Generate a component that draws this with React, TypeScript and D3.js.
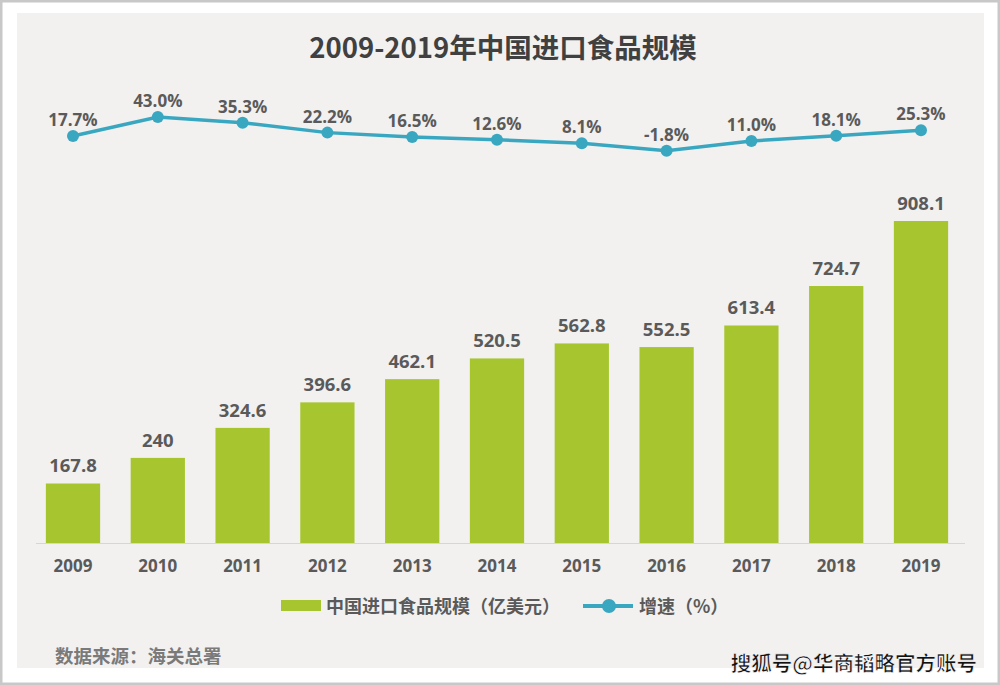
import React from "react";
import * as d3 from "d3";

const years = ["2009","2010","2011","2012","2013","2014","2015","2016","2017","2018","2019"];
const importValues = [167.8, 240, 324.6, 396.6, 462.1, 520.5, 562.8, 552.5, 613.4, 724.7, 908.1];
const valueLabels = ["167.8","240","324.6","396.6","462.1","520.5","562.8","552.5","613.4","724.7","908.1"];
const growth = [17.7, 43.0, 35.3, 22.2, 16.5, 12.6, 8.1, -1.8, 11.0, 18.1, 25.3];
const growthLabels = ["17.7%","43.0%","35.3%","22.2%","16.5%","12.6%","8.1%","-1.8%","11.0%","18.1%","25.3%"];

const FONT = "'Noto Sans CJK SC', 'Noto Sans', sans-serif";
const NUMFONT = "'Open Sans', 'Noto Sans', sans-serif";
const GREEN = "#a7c52f";
const BLUE = "#3aa7c1";
const TXT = "#5a5a5a";

export default function App() {
  const x = d3.scaleBand<string>().domain(years).range([30.6, 963.4]).paddingInner(0.36).paddingOuter(0.18);
  const y = d3.scaleLinear().domain([0, 1000]).range([543, 543 - 354.6]);
  const yg = d3.scaleLinear().domain([0, 43]).range([149.3, 117]);
  const cx = (yr: string) => (x(yr) as number) + x.bandwidth() / 2;
  const line = d3.line<number>().x((_, i) => cx(years[i])).y((d) => yg(d));

  return (
    <svg width={1000} height={685} style={{ position: "absolute", left: 0, top: 0 }}>
      <rect x={0} y={0} width={1000} height={685} fill="#ffffff" />
      <rect x={1} y={1} width={998} height={683} fill="none" stroke="#c8c8c8" strokeWidth={3} />
      <rect x={17} y={13} width={967} height={655} fill="#f2f1f0" />
      <text x={503} y={58} textAnchor="middle" fontFamily={FONT} fontWeight={700} fontSize={27.5} fill="#404040">
        2009-2019年中国进口食品规模
      </text>

      {years.map((yr, i) => (
        <rect key={"b" + yr} x={x(yr)} y={y(importValues[i])} width={x.bandwidth()} height={y(0) - y(importValues[i])} fill={GREEN} />
      ))}
      <line x1={36} x2={965} y1={543.5} y2={543.5} stroke="#d6d6d6" strokeWidth={1} />

      {years.map((yr, i) => (
        <text key={"v" + yr} x={cx(yr)} y={y(importValues[i]) - 11} textAnchor="middle" fontFamily={NUMFONT} fontWeight={700} fontSize={18.5} fill={TXT}>
          {valueLabels[i]}
        </text>
      ))}
      {years.map((yr) => (
        <text key={"x" + yr} x={cx(yr)} y={572} textAnchor="middle" fontFamily={NUMFONT} fontWeight={700} fontSize={17} fill={TXT}>
          {yr}
        </text>
      ))}

      <path d={line(growth) || ""} fill="none" stroke={BLUE} strokeWidth={3.5} />
      {growth.map((g, i) => (
        <circle key={"c" + i} cx={cx(years[i])} cy={yg(g)} r={6} fill={BLUE} />
      ))}
      {growth.map((g, i) => (
        <text key={"g" + i} x={cx(years[i])} y={yg(g) - 10} textAnchor="middle" fontFamily={NUMFONT} fontWeight={700} fontSize={17} fill={TXT}>
          {growthLabels[i]}
        </text>
      ))}

      <rect x={281} y={600} width={40} height={11} fill={GREEN} />
      <text x={326} y={613} fontFamily={FONT} fontWeight={700} fontSize={18} fill={TXT}>中国进口食品规模（亿美元）</text>
      <line x1={583} x2={633} y1={606} y2={606} stroke={BLUE} strokeWidth={4} />
      <circle cx={609} cy={606} r={7} fill={BLUE} />
      <text x={639} y={613} fontFamily={FONT} fontWeight={700} fontSize={18} fill={TXT}>增速（%）</text>

      <text x={55} y={663} fontFamily={FONT} fontWeight={700} fontSize={18.5} fill="#7a7a7a">数据来源：海关总署</text>
      <text x={977} y={671} textAnchor="end" fontFamily={FONT} fontWeight={700} fontSize={20.5} fill="#111111" stroke="#ffffff" strokeWidth={0.6}>
        搜狐号@华商韬略官方账号
      </text>
    </svg>
  );
}
